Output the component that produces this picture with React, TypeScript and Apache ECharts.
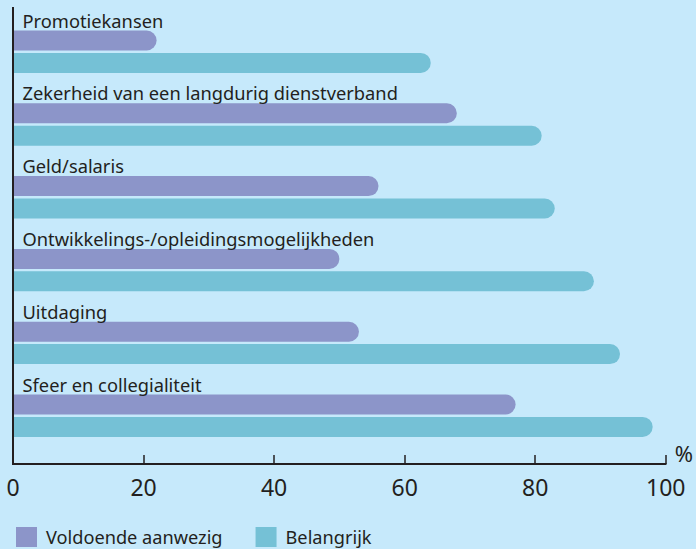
import React, { useEffect, useRef } from "react";
import * as echarts from "echarts";

const categories = [
  "Promotiekansen",
  "Zekerheid van een langdurig dienstverband",
  "Geld/salaris",
  "Ontwikkelings-/opleidingsmogelijkheden",
  "Uitdaging",
  "Sfeer en collegialiteit",
];
const voldoendeAanwezig = [22, 68, 56, 50, 53, 77];
const belangrijk = [64, 81, 83, 89, 93, 98];
const seriesNames = ["Voldoende aanwezig", "Belangrijk"];
const xTicks = [0, 20, 40, 60, 80, 100];

const FONT = "'Noto Sans', 'Open Sans', sans-serif";
const TEXT = "#231f20";
const PURPLE = "#8c95c9";
const TEAL = "#75c1d6";
const BG = "#c6e9fb";

export default function App() {
  const ref = useRef<HTMLDivElement>(null);
  useEffect(() => {
    if (!ref.current) return;
    const chart = echarts.init(ref.current, undefined, { renderer: "svg" });
    chart.setOption({
      animation: false,
      backgroundColor: BG,
      textStyle: { fontFamily: FONT, color: TEXT },
      grid: { left: 13, right: 29.3, top: 15.3, bottom: 96.9, containLabel: false },
      legend: {
        left: 16,
        top: 527,
        itemWidth: 21,
        itemHeight: 20,
        itemGap: 33,
        icon: "rect",
        padding: 0,
        data: seriesNames,
        textStyle: {
          fontFamily: FONT,
          fontSize: 18.2,
          lineHeight: 20,
          color: TEXT,
          padding: [0, 0, 0, 4],
        },
      },
      xAxis: {
        type: "value",
        min: xTicks[0],
        max: xTicks[xTicks.length - 1],
        interval: 20,
        offset: 12,
        name: "%",
        nameLocation: "end",
        nameGap: 9,
        nameTextStyle: { fontFamily: FONT, fontSize: 22, color: TEXT, verticalAlign: "bottom", align: "left" },
        axisLine: { show: true, lineStyle: { color: TEXT, width: 2 } },
        axisTick: { show: true, inside: true, length: 9, lineStyle: { color: TEXT, width: 1.5 } },
        axisLabel: { fontFamily: FONT, fontSize: 23, color: TEXT, margin: 11 },
        splitLine: { show: false },
      },
      yAxis: {
        type: "category",
        inverse: true,
        data: categories,
        axisLine: { show: false },
        axisTick: { show: false },
        axisLabel: { show: false },
      },
      graphic: [
        {
          type: "line",
          shape: { x1: 13, y1: 7, x2: 13, y2: 465 },
          style: { stroke: TEXT, lineWidth: 2 },
          z: 10,
        },
      ],
      series: [
        {
          name: seriesNames[0],
          type: "bar",
          data: voldoendeAanwezig,
          barWidth: 20,
          barGap: "12%",
          itemStyle: { color: PURPLE, borderRadius: [0, 10, 10, 0] },
          label: {
            show: true,
            formatter: "{b}",
            position: [9.5, -10.4],
            align: "left",
            verticalAlign: "middle",
            fontFamily: FONT,
            fontSize: 18.3,
            color: TEXT,
          },
        },
        {
          name: seriesNames[1],
          type: "bar",
          data: belangrijk,
          barWidth: 20,
          barGap: "12%",
          itemStyle: { color: TEAL, borderRadius: [0, 10, 10, 0] },
        },
      ],
    });
    return () => chart.dispose();
  }, []);
  return (
    <div
      ref={ref}
      style={{ position: "absolute", left: 0, top: 0, width: 696, height: 549 }}
    />
  );
}
